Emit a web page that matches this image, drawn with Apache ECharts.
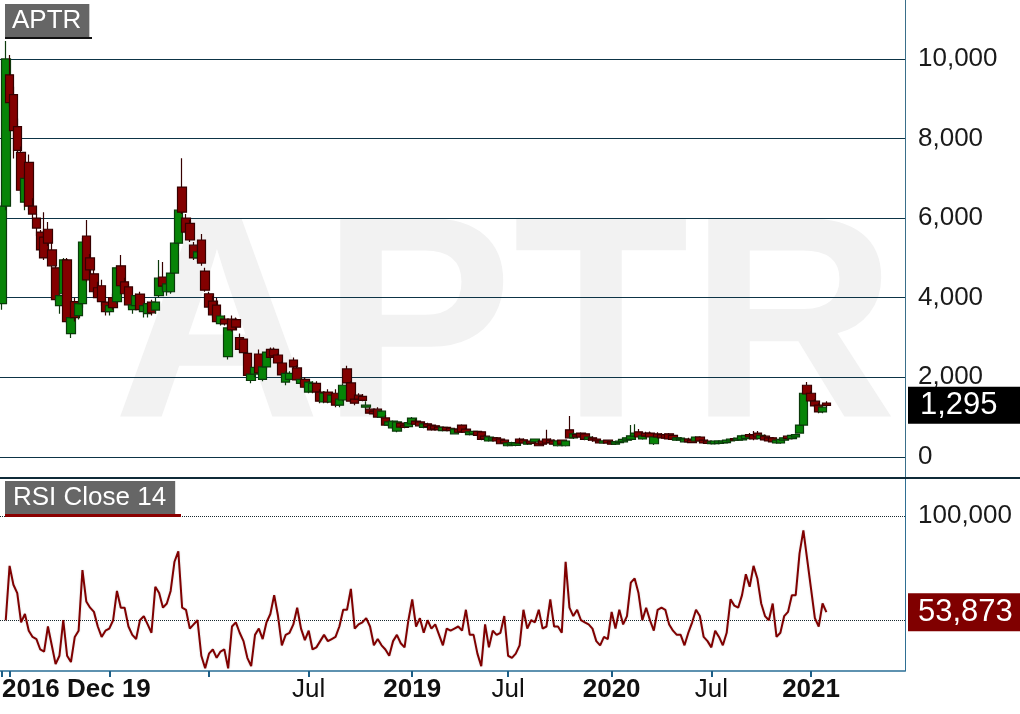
<!DOCTYPE html>
<html>
<head>
<meta charset="utf-8">
<script src="https://cdn.jsdelivr.net/npm/echarts@6/dist/echarts.min.js"></script>
<style>
html,body{margin:0;padding:0;background:#ffffff;}
#chart{width:1020px;height:714px;}
</style>
</head>
<body>
<div id="chart"></div>
<script>
// ---- data (weekly) ----
const symbolName = 'APTR';
const indicatorName = 'RSI Close 14';
const firstLabel = '2016 Dec 19';
const weekCount = 236; // weekly slots on the time axis, starting 2016-12-19

const opens = [3850,6300,9600,9100,8300,7650,6400,7400,6300,6000,5650,5520,5720,5200,4750,3800,4100,4950,3100,3900,
3550,3850,5550,5000,4600,4250,4300,3890,3650,4000,3900,4800,4400,4270,3700,3800,4090,3650,3600,3890,
3690,4050,4520,4150,4150,4620,5370,6780,6000,5870,5320,5000,5450,4670,4100,3915,3815,3350,3460,2520,
3460,3450,3000,2960,2600,1920,2080,2585,1950,2260,2700,2700,2560,2360,1880,1950,2435,2235,1850,1950,
1630,1650,1850,1630,1380,1630,1380,1600,1300,1430,2210,1860,1450,1550,1520,1250,1200,1150,1200,1000,
980,800,730,650,850,800,760,830,900,880,740,830,800,780,750,660,740,720,580,700,
800,700,560,580,640,630,520,400,420,480,450,420,280,300,290,450,430,320,400,380,
350,400,450,420,400,280,420,280,680,480,560,600,580,440,480,450,400,350,420,380,
320,360,380,420,440,520,630,450,600,600,330,580,560,560,580,540,420,430,380,450,
420,400,500,420,400,330,330,340,350,360,400,460,420,430,460,560,550,600,460,520,
480,480,350,350,420,520,460,500,600,800,1800,1600,1400,1300,1130,1355];
const highs = [6400,10450,10100,9300,8500,7800,7100,7600,6500,6100,5700,6150,5900,5400,4800,4200,5000,5000,3600,4000,
3900,5500,5950,5100,4700,4400,4450,3950,3900,4100,4800,5070,4500,4350,3900,4100,4150,3850,3900,3950,
4000,4950,4900,4500,4650,5400,6250,7505,6100,5950,5400,5200,5600,4750,4150,4050,4000,3600,3550,3300,
3550,3500,3100,3000,2650,2150,2300,2700,2300,2700,2750,2750,2600,2400,2150,2150,2500,2300,2000,2000,
1900,1900,1900,1700,1650,1700,1600,1700,1500,1850,2290,1900,1500,1600,1580,1400,1250,1200,1250,1180,
1050,900,920,900,880,850,880,1000,950,900,850,860,820,800,780,760,760,740,720,720,
820,740,650,660,660,650,560,520,500,500,480,450,360,380,370,480,460,400,430,460,
420,450,680,460,440,420,440,420,1030,620,600,620,600,520,520,480,430,420,440,400,
400,420,460,500,800,820,700,560,630,640,520,620,600,580,600,560,500,500,470,480,
450,520,520,440,430,400,410,410,420,430,470,480,480,540,560,600,650,650,560,560,
500,500,440,460,500,540,560,580,820,1650,1880,1650,1450,1350,1300,1400];
const lows = [3700,6200,8800,7500,7500,6600,6200,6200,6000,5550,5100,4950,5300,4750,3900,3600,4000,3350,2990,3400,
3450,3750,4400,4600,4100,3900,3800,3550,3550,3700,3850,4250,4050,3750,3600,3700,3650,3500,3500,3550,
3600,4000,4200,4050,4100,4600,5300,6100,5600,5400,4950,4900,4800,4150,3700,3500,3350,3300,3300,2450,
3150,3200,2650,2600,2000,1850,2000,2050,1900,2200,2450,2500,2350,2000,1800,1900,2200,1900,1800,1700,
1600,1600,1600,1350,1350,1350,1350,1250,1250,1400,1800,1350,1300,1400,1400,1200,1080,1050,980,950,
780,750,700,620,720,720,740,800,800,760,720,740,660,680,660,640,650,640,560,600,
600,600,540,560,520,420,420,380,400,380,320,330,260,280,270,330,330,300,320,360,
270,300,330,340,300,260,300,260,460,450,480,480,420,400,380,380,340,330,330,300,
300,340,360,400,420,500,480,430,500,480,300,480,460,460,440,430,400,400,360,360,
340,380,380,330,330,310,310,320,330,340,380,400,400,410,440,480,420,480,440,400,
380,360,330,330,400,430,440,480,580,780,1550,1380,1250,1100,1100,1250];
const closes = [6300,10000,8900,8200,7700,6700,7000,6300,6100,5750,5200,5000,5370,4800,3950,4050,4950,3400,3500,3500,
3850,5400,4450,4700,4150,4000,3900,3650,3800,3750,4750,4300,4100,3820,3820,4050,3700,3800,3850,3620,
3890,4490,4290,4350,4620,5370,6200,6150,5650,5450,5000,5150,4870,4190,3765,3570,3400,3540,3340,3240,
3190,3260,2700,2620,2050,2080,2250,2110,2260,2635,2500,2540,2360,2060,2100,2100,2260,1935,1950,1750,
1880,1850,1630,1400,1600,1380,1550,1300,1450,1800,1860,1400,1350,1450,1420,1300,1100,1080,1000,1150,
800,880,900,880,750,740,860,975,820,780,830,760,680,700,680,740,670,660,700,620,
630,620,630,640,540,440,450,500,480,400,330,350,350,360,350,350,350,380,340,450,
280,320,350,360,320,400,320,400,480,580,500,500,440,500,420,400,350,400,350,320,
380,400,440,480,530,600,500,530,520,500,500,500,480,470,450,440,480,470,450,380,
360,500,400,350,340,380,400,400,400,420,450,420,470,530,540,500,450,500,540,430,
400,380,420,440,480,460,540,560,800,1600,1580,1405,1280,1130,1250,1295];
const rsiValues = [null,50,76,67,63,49,53,45,42,41,36,35,47,38,29,33,50,33,30,42,
45,74,59,56,54,47,42,45,46,50,64,56,56,47,43,41,50,52,48,44,
66,63,56,58,64,78,83,56,55,46,48,50,33,27,34,36,32,35,36,27,
47,49,44,40,32,28,43,46,41,49,53,62,52,38,43,44,48,56,46,40.5,
45,36,37,40,43,40,41,42,47,55,55,65,46,48,49,51,47,38,41,38,
36,33,40,43,39,37,50,60,47,51,44,50,46,48,43,38,46,45,46,47,
45,55,43,43,34,28,48,37,45,43,44,52,33,32,34,38,55,46,50,49,
55,46,47,60,47,47,44,78,56,52,55,50,49,48,46,40,38,42,41,54,
46,55,48,52,68,70,63,50,56,50,45,55,56,55,48,45,43,43,38,44,
49,55,52,42,40,37,45,42,38,44,60,57,56,62,72,66,76,70,58,52,
50,58,42,44,52,54,62,62,82,93,79,65,51,47,58,53.873];

// ---- derived structures ----
const categories = [];
for (let k = 0; k < weekCount; k++) {
  const d = new Date(Date.UTC(2016, 11, 19 + 7 * k));
  categories.push(d.toISOString().slice(0, 10));
}
const candleData = opens.map((o, i) => [o, closes[i], lows[i], highs[i]]);
const rsiData = rsiValues.map(v => (v == null ? '-' : v));
const lastClose = closes[closes.length - 1];
const lastRsi = rsiValues[rsiValues.length - 1];

const FONT = '"Liberation Sans", Arial, Helvetica, sans-serif';

function isTick(idx, val) {
  if (idx === 0) return true;
  const m = +val.slice(5, 7), d = +val.slice(8, 10);
  return (m === 1 || m === 7) && d <= 7;
}
function tickLabel(val, idx) {
  if (idx === 0) return '{b|' + firstLabel + '}';
  const y = +val.slice(0, 4), m = +val.slice(5, 7);
  if (m === 1) return y >= 2019 ? '{b|' + y + '}' : '';
  if (m === 7) return y >= 2018 ? 'Jul' : '';
  return '';
}
function thousands(v) {
  return Math.round(v).toString().replace(/\B(?=(\d{3})+(?!\d))/g, ',');
}

const chart = echarts.init(document.getElementById('chart'), null, {renderer: 'canvas'});
chart.setOption({
  animation: false,
  backgroundColor: '#ffffff',
  title: [
    {text: symbolName, left: 5, top: 4, padding: [3, 8, 2, 7], backgroundColor: '#666666',
     textStyle: {color: '#ffffff', fontSize: 26, fontWeight: 'normal', fontFamily: FONT, lineHeight: 28}},
    {text: indicatorName, left: 5, top: 481, padding: [3, 9, 2, 8], backgroundColor: '#666666',
     textStyle: {color: '#ffffff', fontSize: 26, fontWeight: 'normal', fontFamily: FONT, lineHeight: 28}}
  ],
  graphic: [
    {type: 'text', z: -10, silent: true,
     style: {text: symbolName, x: 113, y: 337, font: 'bold 288px ' + FONT, fill: '#f2f2f2',
             align: 'left', verticalAlign: 'middle'}},
    {type: 'rect', z: 10, silent: true, shape: {x: 5, y: 37, width: 87, height: 2}, style: {fill: '#111111'}},
    {type: 'rect', z: 10, silent: true, shape: {x: 5, y: 514, width: 176, height: 3}, style: {fill: '#8b0000'}},
    {type: 'rect', z: 10, silent: true, shape: {x: 0, y: 477, width: 1020, height: 2}, style: {fill: '#0f2a38'}}
  ],
  grid: [
    {left: 0, top: 0, width: 905, height: 478, containLabel: false, outerBoundsMode: 'none'},
    {left: 0, top: 479, width: 905, height: 192, containLabel: false, outerBoundsMode: 'none'}
  ],
  xAxis: [
    {type: 'category', gridIndex: 0, data: categories, boundaryGap: true, show: false},
    {type: 'category', gridIndex: 1, data: categories, boundaryGap: true,
     axisLine: {show: true, onZero: false, lineStyle: {color: '#2a6f97', width: 1.5}},
     axisTick: {show: true, interval: isTick, alignWithLabel: true, length: 6, lineStyle: {color: '#1d5f87', width: 2}},
     axisLabel: {show: true, interval: isTick, formatter: tickLabel, alignMinLabel: 'left', margin: 6,
                 fontSize: 26, color: '#111111', fontFamily: FONT,
                 rich: {b: {fontWeight: 'bold', fontSize: 26, color: '#111111', fontFamily: FONT}}},
     splitLine: {show: false}}
  ],
  yAxis: [
    {type: 'value', gridIndex: 0, position: 'right', min: -530, max: 11480, splitNumber: 6,
     axisLine: {show: true, lineStyle: {color: '#3a6f8a', width: 1}},
     axisTick: {show: false},
     axisLabel: {margin: 13, fontSize: 26, color: '#1a1a1a', fontFamily: FONT, formatter: v => thousands(v),
                 showMinLabel: false, showMaxLabel: false},
     splitLine: {show: true, showMinLine: false, showMaxLine: false, lineStyle: {color: '#0d3446', width: 1.2}}},
    {type: 'value', gridIndex: 1, position: 'right', min: 25.7, max: 117.6, splitNumber: 2,
     axisLine: {show: true, lineStyle: {color: '#2f6f93', width: 1}},
     axisTick: {show: false},
     axisLabel: {margin: 13, fontSize: 26, color: '#1a1a1a', fontFamily: FONT,
                 formatter: v => (v === 100 ? '100,000' : ''), showMinLabel: false, showMaxLabel: false},
     splitLine: {show: true, showMinLine: false, showMaxLine: false, lineStyle: {color: '#1a2a30', width: 1, type: 'dotted'}}}
  ],
  series: [
    {type: 'candlestick', xAxisIndex: 0, yAxisIndex: 0, barWidth: 9, data: candleData, z: 3,
     itemStyle: {color: '#078407', color0: '#830000', borderColor: '#0b3a0b', borderColor0: '#360000', borderWidth: 1.2},
     markLine: {silent: true, symbol: ['none', 'none'], animation: false, precision: 0,
                lineStyle: {width: 0, color: 'rgba(0,0,0,0)'},
                label: {show: true, position: 'end', distance: 3, formatter: () => thousands(lastClose),
                        color: '#ffffff', fontSize: 31, fontFamily: FONT, backgroundColor: '#000000',
                        padding: [2, 30, 2, 12], lineHeight: 33},
                data: [{yAxis: lastClose}]}},
    {type: 'line', xAxisIndex: 1, yAxisIndex: 1, data: rsiData, symbol: 'none', z: 3,
     lineStyle: {color: '#800000', width: 2, shadowColor: 'rgba(0,0,0,0.18)', shadowBlur: 2},
     markLine: {silent: true, symbol: ['none', 'none'], animation: false, precision: 3,
                lineStyle: {width: 0, color: 'rgba(0,0,0,0)'},
                label: {show: true, position: 'end', distance: 3,
                        formatter: () => lastRsi.toFixed(3).replace('.', ','),
                        color: '#ffffff', fontSize: 31, fontFamily: FONT, backgroundColor: '#800000',
                        padding: [3, 10, 2, 10], lineHeight: 33},
                data: [{yAxis: lastRsi}]}}
  ]
});
</script>
</body>
</html>
